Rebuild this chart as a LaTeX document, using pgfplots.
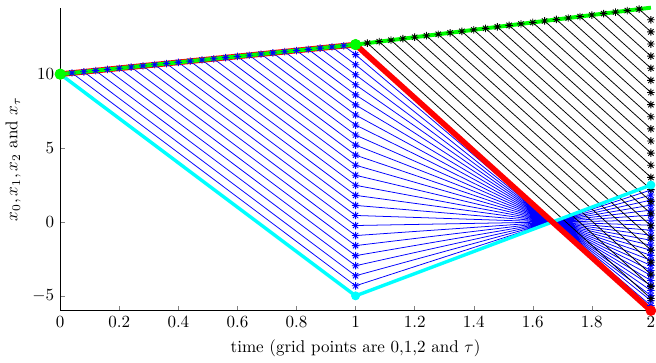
\documentclass[border=0pt]{standalone}
\usepackage{pgfplots}
\pgfplotsset{compat=1.18}
\definecolor{mblue}{rgb}{0,0,1}
\definecolor{mcyan}{rgb}{0,1,1}
\definecolor{mred}{rgb}{1,0,0}
\definecolor{mgreen}{rgb}{0,1,0}
\pgfdeclareplotmark{mast}{%
 \pgfpathmoveto{\pgfqpoint{-\pgfplotmarksize}{0pt}}\pgfpathlineto{\pgfqpoint{\pgfplotmarksize}{0pt}}%
 \pgfpathmoveto{\pgfqpoint{0pt}{-\pgfplotmarksize}}\pgfpathlineto{\pgfqpoint{0pt}{\pgfplotmarksize}}%
 \pgfpathmoveto{\pgfqpoint{-.707\pgfplotmarksize}{-.707\pgfplotmarksize}}\pgfpathlineto{\pgfqpoint{.707\pgfplotmarksize}{.707\pgfplotmarksize}}%
 \pgfpathmoveto{\pgfqpoint{-.707\pgfplotmarksize}{.707\pgfplotmarksize}}\pgfpathlineto{\pgfqpoint{.707\pgfplotmarksize}{-.707\pgfplotmarksize}}%
 \pgfusepathqstroke}
\begin{document}
\begin{tikzpicture}
\begin{axis}[
  name=ax,
  scale only axis,
  width=347pt, height=178pt,
  xmin=0, xmax=2, ymin=-6, ymax=14.5,
  axis x line*=bottom, axis y line*=left,
  xtick={0,0.2,...,2.01}, ytick={-5,0,5,10},
  tick align=inside,
  major tick length=2.6pt,
  xticklabel style={/pgf/number format/fixed},
  xlabel={time (grid points are 0,1,2 and $\tau$)},
  ylabel={$x_0, x_1, x_2$ and $x_\tau$},
  xlabel style={yshift=0pt},
  clip=false,
  unbounded coords=jump,
]
% blue paths (tau in (0,1))
\addplot[mblue, line width=0.45pt, mark=mast, mark size=2.2pt, mark options={line width=0.5pt}] coordinates {
(0.04,10.08) (1,-4.32) (2,2.16) (nan,nan)
(0.08,10.16) (1,-3.64) (2,1.82) (nan,nan)
(0.12,10.24) (1,-2.96) (2,1.48) (nan,nan)
(0.16,10.32) (1,-2.28) (2,1.14) (nan,nan)
(0.20,10.40) (1,-1.60) (2,0.80) (nan,nan)
(0.24,10.48) (1,-0.92) (2,0.46) (nan,nan)
(0.28,10.56) (1,-0.24) (2,0.12) (nan,nan)
(0.32,10.64) (1,0.44) (2,-0.22) (nan,nan)
(0.36,10.72) (1,1.12) (2,-0.56) (nan,nan)
(0.40,10.80) (1,1.80) (2,-0.90) (nan,nan)
(0.44,10.88) (1,2.48) (2,-1.24) (nan,nan)
(0.48,10.96) (1,3.16) (2,-1.58) (nan,nan)
(0.52,11.04) (1,3.84) (2,-1.92) (nan,nan)
(0.56,11.12) (1,4.52) (2,-2.26) (nan,nan)
(0.60,11.20) (1,5.20) (2,-2.60) (nan,nan)
(0.64,11.28) (1,5.88) (2,-2.94) (nan,nan)
(0.68,11.36) (1,6.56) (2,-3.28) (nan,nan)
(0.72,11.44) (1,7.24) (2,-3.62) (nan,nan)
(0.76,11.52) (1,7.92) (2,-3.96) (nan,nan)
(0.80,11.60) (1,8.60) (2,-4.30) (nan,nan)
(0.84,11.68) (1,9.28) (2,-4.64) (nan,nan)
(0.88,11.76) (1,9.96) (2,-4.98) (nan,nan)
(0.92,11.84) (1,10.64) (2,-5.32) (nan,nan)
(0.96,11.92) (1,11.32) (2,-5.66)
};
% black paths (tau in (1,2))
\addplot[black, line width=0.45pt, mark=mast, mark size=2.2pt, mark options={line width=0.5pt}] coordinates {
(1.04,12.1) (2,-5.18) (nan,nan)
(1.08,12.2) (2,-4.36) (nan,nan)
(1.12,12.3) (2,-3.54) (nan,nan)
(1.16,12.4) (2,-2.72) (nan,nan)
(1.20,12.5) (2,-1.90) (nan,nan)
(1.24,12.6) (2,-1.08) (nan,nan)
(1.28,12.7) (2,-0.26) (nan,nan)
(1.32,12.8) (2,0.56) (nan,nan)
(1.36,12.9) (2,1.38) (nan,nan)
(1.40,13.0) (2,2.20) (nan,nan)
(1.44,13.1) (2,3.02) (nan,nan)
(1.48,13.2) (2,3.84) (nan,nan)
(1.52,13.3) (2,4.66) (nan,nan)
(1.56,13.4) (2,5.48) (nan,nan)
(1.60,13.5) (2,6.30) (nan,nan)
(1.64,13.6) (2,7.12) (nan,nan)
(1.68,13.7) (2,7.94) (nan,nan)
(1.72,13.8) (2,8.76) (nan,nan)
(1.76,13.9) (2,9.58) (nan,nan)
(1.80,14.0) (2,10.40) (nan,nan)
(1.84,14.1) (2,11.22) (nan,nan)
(1.88,14.2) (2,12.04) (nan,nan)
(1.92,14.3) (2,12.86) (nan,nan)
(1.96,14.4) (2,13.68)
};
% cyan
\addplot[mcyan, line width=2pt, mark=*, mark size=2.4pt, mark options={fill=mcyan, draw=mcyan, line width=0.4pt}] coordinates {(0,10) (1,-5) (2,2.5)};
% red
\addplot[mred, line width=3.3pt, mark=*, mark size=2.9pt, mark options={fill=mred, draw=mred, line width=0.4pt}] coordinates {(0,10) (1,12) (2,-6)};
% green
\addplot[mgreen, line width=2.3pt, mark=*, mark size=3.1pt, mark indices={1,2}, mark options={fill=mgreen, draw=mgreen, line width=0.4pt}] coordinates {(0,10) (1,12) (2,14.5)};
\end{axis}
\pgfresetboundingbox
\path (ax.outer south west) rectangle ([xshift=3pt,yshift=4.5pt]ax.north east);
\end{tikzpicture}
\end{document}
